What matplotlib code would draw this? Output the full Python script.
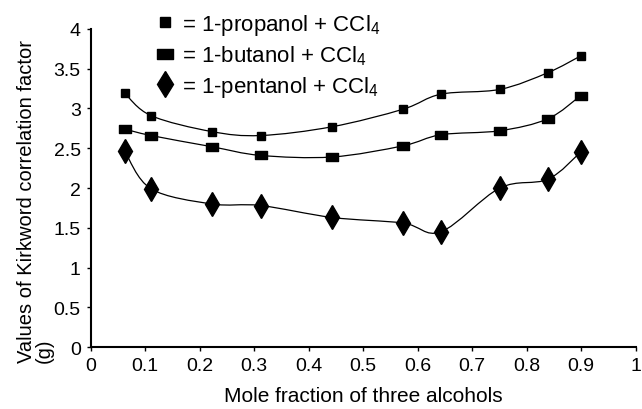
import numpy as np
import matplotlib
matplotlib.use("Agg")
import matplotlib.pyplot as plt
from matplotlib.path import Path
from matplotlib.patches import PathPatch
from matplotlib.lines import Line2D

plt.rcParams['font.family'] = ['Liberation Sans', 'DejaVu Sans']
plt.rcParams['mathtext.fontset'] = 'custom'
plt.rcParams['mathtext.rm'] = 'Liberation Sans'
plt.rcParams['mathtext.default'] = 'regular'

#======================= data =======================#
x_frac = [0.063, 0.111, 0.222, 0.312, 0.443, 0.573, 0.643, 0.751, 0.839, 0.899]
g_propanol = [3.19, 2.91, 2.71, 2.66, 2.77, 2.99, 3.18, 3.24, 3.45, 3.66]
g_butanol = [2.74, 2.66, 2.52, 2.41, 2.39, 2.53, 2.67, 2.72, 2.87, 3.16]
g_pentanol = [2.46, 1.99, 1.80, 1.78, 1.63, 1.56, 1.45, 2.00, 2.11, 2.45]
labels = ['1-propanol + CCl$_4$', '1-butanol + CCl$_4$', '1-pentanol + CCl$_4$']
x_ticks = [0, 0.1, 0.2, 0.3, 0.4, 0.5, 0.6, 0.7, 0.8, 0.9, 1]
y_ticks = [0, 0.5, 1, 1.5, 2, 2.5, 3, 3.5, 4]

rect = Path([(-1, -0.6), (1, -0.6), (1, 0.6), (-1, 0.6), (-1, -0.6)],
            [Path.MOVETO, Path.LINETO, Path.LINETO, Path.LINETO, Path.CLOSEPOLY])


def smooth_path(xs, ys):
    # excel style smoothed line: cubic bezier through every point
    p = np.column_stack([xs, ys])
    n = len(p)
    verts = [p[0]]
    codes = [Path.MOVETO]
    for i in range(n - 1):
        p_prev = p[i - 1] if i > 0 else p[i]
        p_next = p[i + 2] if i + 2 < n else p[i + 1]
        c1 = p[i] + (p[i + 1] - p_prev) / 6.0
        c2 = p[i + 1] - (p_next - p[i]) / 6.0
        verts += [c1, c2, p[i + 1]]
        codes += [Path.CURVE4] * 3
    return Path(verts, codes)


fig = plt.figure(figsize=(6.42, 4.10), dpi=100)
ax = fig.add_axes([0.141, 0.151, 0.849, 0.776])

# (values, marker, size in plot, size in legend)
series = [(g_propanol, 's', 5.5, 7.5), (g_butanol, rect, 9, 11), (g_pentanol, 'd', 12, 13)]
handles = []
for (yy, mk, ms, ms_leg), lab in zip(series, labels):
    ax.add_patch(PathPatch(smooth_path(x_frac, yy), facecolor='none', edgecolor='black', lw=0.9, zorder=2))
    ax.plot(x_frac, yy, linestyle='none', marker=mk, markersize=ms, color='black', zorder=3)
    handles.append(Line2D([], [], linestyle='none', marker=mk, markersize=ms_leg, color='black', label=lab))

ax.set_xlim(0, 1)
ax.set_ylim(0, 4)
ax.set_xticks(x_ticks)
ax.set_xticklabels([f"{t:g}" for t in x_ticks])
ax.set_yticks(y_ticks)
ax.set_yticklabels([f"{t:g}" for t in y_ticks])
ax.spines['top'].set_visible(False)
ax.spines['right'].set_visible(False)
ax.spines['left'].set_linewidth(1.5)
ax.spines['bottom'].set_linewidth(1.5)
ax.tick_params(axis='both', labelsize=14, length=3, width=1, direction='out', pad=4)
ax.patch.set_alpha(0)

ax.set_xlabel('Mole fraction of three alcohols', fontsize=15, labelpad=9)
fig.text(0.027, 0.115, 'Values of Kirkword correlation factor\n(g)', rotation=90,
         fontsize=14.5, ha='left', va='bottom', multialignment='left', linespacing=0.92)

leg = ax.legend(handles=handles, loc='upper left', bbox_to_anchor=(0.226, 0.99),
                bbox_transform=fig.transFigure, frameon=False, fontsize=16,
                handlelength=1.0, handletextpad=0.25, labelspacing=0.3, borderaxespad=0)
for t in leg.get_texts():
    t.set_text('= ' + t.get_text())

fig.savefig('out.png', dpi=100)
